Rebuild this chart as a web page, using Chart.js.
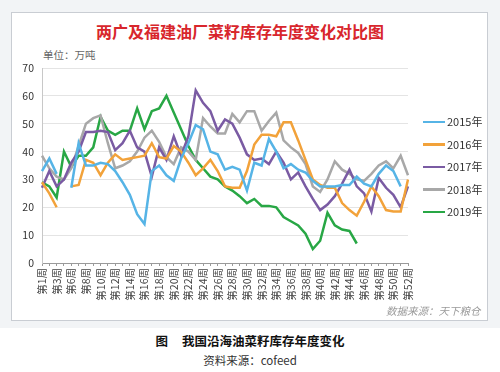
<!DOCTYPE html>
<html>
<head>
<meta charset="utf-8">
<script src="https://cdn.jsdelivr.net/npm/chart.js@4.4.1/dist/chart.umd.min.js"></script>
<style>
  html, body { margin: 0; padding: 0; background: #fff; }
  body { width: 500px; height: 372px; position: relative; overflow: hidden;
         font-family: 'Noto Sans CJK SC', 'Liberation Sans', sans-serif; }
  #bg { position: absolute; left: 0; top: 0; width: 500px; height: 328px; background: #f2f4f6; }
  #frame { position: absolute; left: 11px; top: 12px; width: 475px; height: 307px;
           background: #fff; border: 1px solid #c9cdd3; }
  #box { position: absolute; left: 0; top: 0; width: 500px; height: 320px; }
  #title { position: absolute; left: 0; width: 480px; top: 21px; text-align: center;
           color: #d8262c; font-size: 16px; font-weight: bold; line-height: 20px; }
  #unit { position: absolute; left: 43px; top: 48px; color: #666; font-size: 10.5px; line-height: 14px; }
  #legend { position: absolute; left: 423px; top: 113px; }
  #legend div { height: 22.5px; line-height: 16px; font-size: 11px; color: #333; white-space: nowrap; }
  #legend span { display: inline-block; width: 22px; height: 2.5px; vertical-align: middle;
                 margin-right: 2px; position: relative; top: -1px; }
  #src { position: absolute; left: 386px; top: 304px; color: #9a9a9a; font-size: 10.5px;
         font-style: italic; line-height: 14px; }
  #cap { position: absolute; left: 0; width: 500px; top: 332px; text-align: center;
         font-size: 12.5px; font-weight: bold; color: #111; line-height: 18px; }
  #ref { position: absolute; left: 0; width: 500px; top: 352px; text-align: center;
         font-size: 11.5px; color: #333; line-height: 16px; }
</style>
</head>
<body>
<div id="bg"></div>
<div id="frame"></div>
<div id="title">两广及福建油厂菜籽库存年度变化对比图</div>
<div id="unit">单位：万吨</div>
<div id="box"><canvas id="chart"></canvas></div>
<div id="legend"></div>
<div id="src">数据来源：天下粮仓</div>
<div id="cap">图&nbsp;&nbsp;&nbsp;&nbsp;&nbsp;我国沿海油菜籽库存年度变化</div>
<div id="ref">资料来源：cofeed</div>
<script>
// 周次（缺第4周）
const weeks = ['第1周', '第2周', '第3周'];
for (let w = 5; w <= 52; w++) weeks.push('第' + w + '周');

const seriesNames = ['2015年', '2016年', '2017年', '2018年', '2019年'];
const seriesColors = ['#56b4e6', '#f2a23a', '#7a5ba3', '#a8a8a8', '#28a745'];

// 库存（万吨）
const y2015 = [33, 37.5, 32, null, 27, 43, 35, 35, 36, 35.5,
               33, 29, 24.5, 17.5, 14, 33, 35, 31.5, 29.5, 37.5,
               43, 49.5, 48, 40, 39, 33.5, 34.5, 33.5, 26, 36,
               35, 44.5, 40, 34, 35.5, 33.5, 32.5, 29.5, 27.5, 27.5,
               27.5, 28, 28, 31, 28.5, 27.5, 32, 35, 33, 27.5, null];
const y2016 = [29, 25, 20, null, 27.5, 28, 37, 36, 31.5, 36,
               39, 37, 37.5, 38, 38.5, 43, 38, 37.5, 42, 40,
               36, 31.5, 34, 37, 33, 27.5, 27, 27, 33, 42.5,
               46, 46, 45.5, 50.5, 50.5, 44, 37, 30, 28, 27,
               27, 21.5, 19, 17, 22, 27.5, 24, 19, 18.5, 18.5, 30];
const y2017 = [27, 33, 27.5, 30, 36, 40, 47, 47, 47.5, 47,
               40.5, 43, 47.5, 41.5, 40, 31, 41.5, 37, 45.5, 38.5,
               45.5, 62, 57.5, 54.5, 47.5, 51.5, 50, 45, 39, 37,
               37.5, 35.5, 40, 36, 30, 32.5, 27.5, 23, 19, 21,
               24, 28.5, 33.5, 27.5, 25, 18.5, 30.5, 27, 24.5, 20, 27.5];
const y2018 = [38.5, 34, 31, 30, 34, 42, 50, 52, 53, 43,
               34, 35, 36.5, 40, 45, 47.5, 43.5, 38, 35.5, 41.5,
               40, 37, 52, 49, 46.5, 46.5, 53.5, 50.5, 54.5, 54.5,
               47.5, 51, 54, 44, 41.5, 39.5, 35.5, 27.5, 25.5, 30,
               36.5, 33.5, 32, 30, 29.5, 32, 35, 36.5, 34, 38.5, 31.5];
const y2019 = [29, 27.5, 23.5, 40, 34.5, 38.5, 38.5, 41.5, 52.5, 47.5,
               46, 47.5, 47.5, 55.5, 48, 54.5, 55.5, 60, 54, 48,
               42, 37, 34, 31, 30, 27.5, 26, 24, 21.5, 23,
               20.5, 20.5, 20, 16.5, 15, 13.5, 10.5, 5, 8, 18,
               13.5, 12, 11.5, 7, null, null, null, null, null, null, null];

const yTicks = [0, 10, 20, 30, 40, 50, 60, 70];

const allData = [y2015, y2016, y2017, y2018, y2019];

const legend = document.getElementById('legend');
seriesNames.forEach((n, i) => {
  const d = document.createElement('div');
  d.innerHTML = '<span style="background:' + seriesColors[i] + '"></span>' + n;
  legend.appendChild(d);
});

Chart.defaults.font.family = "'Noto Sans CJK SC', 'Liberation Sans', sans-serif";

const ctx = document.getElementById('chart').getContext('2d');
const chart = new Chart(ctx, {
  type: 'line',
  data: {
    labels: weeks,
    datasets: allData.map((d, i) => ({
      label: seriesNames[i],
      data: d,
      borderColor: seriesColors[i],
      backgroundColor: seriesColors[i],
      borderWidth: 2.5,
      pointRadius: 0,
      tension: 0,
      spanGaps: false
    }))
  },
  options: {
    responsive: true,
    maintainAspectRatio: false,
    animation: false,
    layout: { padding: { top: 68, right: 92, bottom: 0, left: 0 } },
    plugins: {
      legend: { display: false },
      tooltip: { enabled: false }
    },
    scales: {
      x: {
        offset: false,
        afterFit: s => { s.height = 57; },
        grid: { drawOnChartArea: false, drawTicks: true, tickLength: 3, color: '#9a9a9a' },
        border: { color: '#9a9a9a' },
        ticks: {
          autoSkip: false,
          maxRotation: 90,
          minRotation: 90,
          padding: 2,
          color: '#444',
          font: { size: 10.5 },
          callback: function (v, i) { return i % 2 === 0 ? this.getLabelForValue(v) : ''; }
        }
      },
      y: {
        min: yTicks[0],
        max: yTicks[yTicks.length - 1],
        afterFit: s => { s.width = 42; },
        afterBuildTicks: s => { s.ticks = yTicks.map(v => ({ value: v })); },
        grid: { color: '#e4e4e4', drawTicks: false },
        border: { color: '#c8c8c8' },
        ticks: { padding: 8, color: '#333', font: { size: 10.5 } }
      }
    }
  }
});
</script>
</body>
</html>
